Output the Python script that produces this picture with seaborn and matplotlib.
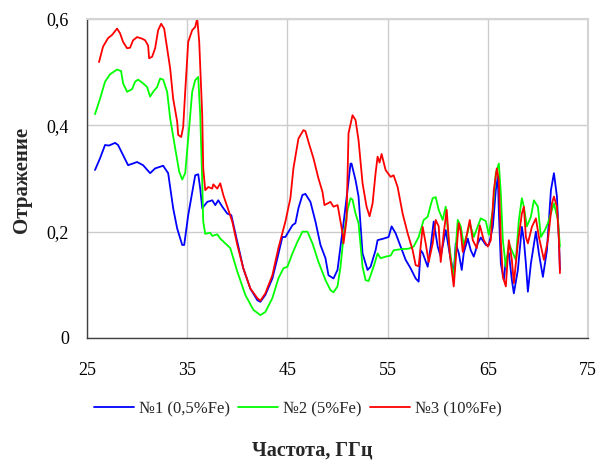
import matplotlib
matplotlib.use("Agg")
import matplotlib.pyplot as plt
import numpy as np
import pandas as pd
import seaborn as sns
from matplotlib.ticker import FuncFormatter

# sample 1 (0.5% Fe)
freq_1 = [25.8, 26.3, 26.8, 27.2, 27.8, 28.1, 28.6, 29.1, 30.0, 30.6,
          31.3, 31.8, 32.6, 33.1, 33.6, 34.0, 34.5, 34.7, 35.1, 35.8,
          36.1, 36.3, 36.5, 37.0, 37.5, 37.8, 38.1, 38.5, 39.0, 39.4,
          40.0, 40.6, 41.3, 42.0, 42.3, 42.8, 43.5, 44.0, 44.5, 44.8,
          45.5, 45.8, 46.1, 46.5, 46.8, 47.3, 47.8, 48.3, 48.8, 49.1,
          49.6, 50.0, 50.3, 50.6, 51.0, 51.3, 51.4, 51.8, 52.1, 52.5,
          53.0, 53.3, 53.8, 54.0, 54.6, 55.1, 55.4, 55.8, 56.3, 56.8,
          57.3, 57.8, 58.1, 58.3, 58.5, 59.0, 59.3, 59.6, 60.0, 60.3,
          60.8, 61.3, 61.6, 61.8, 62.1, 62.4, 62.6, 63.0, 63.3, 63.6,
          64.0, 64.3, 64.8, 65.1, 65.5, 65.8, 66.0, 66.1, 66.3, 66.6,
          66.8, 67.1, 67.4, 67.6, 68.0, 68.4, 68.6, 68.8, 69.0, 69.3,
          69.8, 70.1, 70.5, 70.9, 71.3, 71.6, 71.9, 72.1, 72.2]
refl_1 = [0.316, 0.338, 0.363, 0.362, 0.367, 0.363, 0.344, 0.325, 0.331, 0.325,
          0.31, 0.319, 0.324, 0.31, 0.244, 0.206, 0.175, 0.175, 0.231, 0.306,
          0.308, 0.281, 0.244, 0.256, 0.259, 0.25, 0.259, 0.247, 0.234, 0.231,
          0.181, 0.131, 0.093, 0.071, 0.068, 0.081, 0.112, 0.15, 0.19, 0.19,
          0.212, 0.216, 0.244, 0.269, 0.271, 0.256, 0.219, 0.175, 0.15, 0.118,
          0.112, 0.128, 0.172, 0.216, 0.278, 0.328, 0.328, 0.297, 0.266, 0.159,
          0.128, 0.134, 0.165, 0.184, 0.187, 0.19, 0.21, 0.197, 0.172, 0.147,
          0.131, 0.112, 0.106, 0.165, 0.16, 0.134, 0.172, 0.219, 0.172, 0.153,
          0.203, 0.147, 0.122, 0.178, 0.16, 0.128, 0.16, 0.187, 0.165, 0.153,
          0.178, 0.189, 0.175, 0.175, 0.209, 0.278, 0.303, 0.24, 0.14, 0.109,
          0.147, 0.16, 0.109, 0.084, 0.128, 0.209, 0.184, 0.14, 0.087, 0.14,
          0.2, 0.159, 0.115, 0.165, 0.278, 0.31, 0.266, 0.184, 0.128]

# sample 2 (5% Fe)
freq_2 = [25.8, 26.3, 26.8, 27.3, 28.0, 28.4, 28.6, 29.0, 29.5, 29.8,
          30.1, 30.6, 31.0, 31.3, 31.6, 32.0, 32.3, 32.6, 33.0, 33.3,
          33.8, 34.2, 34.5, 34.8, 35.1, 35.5, 35.8, 36.1, 36.3, 36.5,
          36.6, 36.8, 37.3, 37.5, 38.0, 38.3, 38.8, 39.3, 40.0, 40.8,
          41.6, 42.3, 42.8, 43.5, 44.1, 44.6, 45.0, 45.5, 46.0, 46.5,
          47.0, 47.5, 48.1, 48.8, 49.3, 49.6, 50.0, 50.3, 50.6, 51.0,
          51.3, 51.5, 51.8, 52.1, 52.5, 52.8, 53.1, 53.6, 54.0, 54.3,
          54.8, 55.3, 55.6, 56.3, 57.1, 57.6, 58.1, 58.6, 59.0, 59.3,
          59.5, 59.8, 60.1, 60.5, 60.8, 61.1, 61.5, 61.6, 62.0, 62.3,
          62.6, 63.0, 63.2, 63.6, 64.0, 64.3, 64.8, 65.1, 65.5, 65.8,
          66.1, 66.3, 66.5, 66.8, 67.1, 67.5, 67.8, 68.1, 68.4, 68.6,
          68.9, 69.3, 69.6, 70.0, 70.3, 70.7, 71.0, 71.6, 72.0, 72.2]
refl_2 = [0.421, 0.45, 0.482, 0.496, 0.505, 0.502, 0.479, 0.463, 0.468, 0.482,
          0.486, 0.479, 0.472, 0.454, 0.463, 0.472, 0.488, 0.486, 0.463, 0.413,
          0.357, 0.313, 0.298, 0.31, 0.375, 0.463, 0.485, 0.491, 0.419, 0.294,
          0.219, 0.196, 0.198, 0.192, 0.195, 0.187, 0.178, 0.169, 0.125, 0.081,
          0.053, 0.043, 0.049, 0.075, 0.112, 0.131, 0.134, 0.159, 0.181, 0.2,
          0.2, 0.178, 0.143, 0.109, 0.09, 0.086, 0.097, 0.134, 0.19, 0.241,
          0.263, 0.26, 0.234, 0.216, 0.134, 0.109, 0.107, 0.134, 0.159, 0.15,
          0.153, 0.155, 0.165, 0.167, 0.168, 0.172, 0.19, 0.222, 0.228, 0.25,
          0.263, 0.265, 0.241, 0.222, 0.247, 0.184, 0.122, 0.115, 0.222, 0.21,
          0.175, 0.2, 0.216, 0.19, 0.21, 0.225, 0.22, 0.194, 0.241, 0.31,
          0.328, 0.272, 0.184, 0.134, 0.178, 0.16, 0.147, 0.222, 0.263, 0.247,
          0.21, 0.228, 0.259, 0.247, 0.19, 0.203, 0.216, 0.253, 0.222, 0.172]

# sample 3 (10% Fe)
freq_3 = [26.2, 26.6, 27.1, 27.5, 28.0, 28.3, 28.6, 29.0, 29.3, 29.6,
          30.0, 30.5, 30.8, 31.1, 31.2, 31.5, 31.8, 32.1, 32.4, 32.7,
          33.0, 33.3, 33.6, 34.0, 34.1, 34.4, 34.6, 34.8, 35.1, 35.5,
          35.8, 36.0, 36.2, 36.5, 36.6, 36.8, 37.1, 37.5, 37.6, 38.0,
          38.3, 38.6, 39.0, 39.5, 40.0, 40.6, 41.3, 42.0, 42.3, 42.8,
          43.5, 44.1, 44.8, 45.3, 45.6, 46.1, 46.6, 46.8, 47.1, 47.6,
          48.1, 48.5, 48.7, 49.0, 49.3, 49.6, 50.0, 50.1, 50.5, 50.6,
          50.9, 51.1, 51.5, 51.8, 52.1, 52.5, 52.9, 53.2, 53.5, 53.8,
          54.0, 54.2, 54.4, 54.8, 55.3, 55.6, 56.0, 56.5, 57.0, 57.5,
          57.8, 58.1, 58.5, 58.8, 59.1, 59.5, 59.8, 60.1, 60.3, 60.6,
          60.9, 61.2, 61.6, 61.8, 62.1, 62.3, 62.5, 62.8, 63.2, 63.5,
          63.9, 64.2, 64.6, 65.0, 65.3, 65.6, 65.9, 66.1, 66.3, 66.5,
          66.8, 67.1, 67.4, 67.6, 68.0, 68.4, 68.6, 68.8, 69.0, 69.4,
          69.8, 70.1, 70.6, 71.0, 71.4, 71.6, 71.9, 72.1, 72.2]
refl_3 = [0.519, 0.548, 0.564, 0.57, 0.582, 0.573, 0.557, 0.545, 0.546, 0.56,
          0.566, 0.563, 0.56, 0.55, 0.526, 0.529, 0.545, 0.579, 0.591, 0.582,
          0.545, 0.507, 0.45, 0.407, 0.382, 0.378, 0.397, 0.463, 0.557, 0.579,
          0.585, 0.601, 0.557, 0.419, 0.319, 0.278, 0.284, 0.281, 0.289, 0.281,
          0.291, 0.269, 0.247, 0.219, 0.175, 0.131, 0.093, 0.075, 0.07, 0.084,
          0.118, 0.169, 0.219, 0.263, 0.319, 0.375, 0.391, 0.389, 0.369, 0.338,
          0.3, 0.275, 0.25, 0.253, 0.256, 0.247, 0.25, 0.241, 0.197, 0.178,
          0.222, 0.385, 0.419, 0.41, 0.372, 0.291, 0.247, 0.229, 0.253, 0.31,
          0.341, 0.33, 0.346, 0.316, 0.303, 0.306, 0.284, 0.234, 0.197, 0.165,
          0.137, 0.135, 0.209, 0.178, 0.143, 0.178, 0.222, 0.21, 0.143, 0.197,
          0.241, 0.159, 0.097, 0.147, 0.216, 0.2, 0.162, 0.184, 0.222, 0.184,
          0.169, 0.212, 0.184, 0.172, 0.184, 0.278, 0.319, 0.297, 0.184, 0.115,
          0.097, 0.184, 0.147, 0.103, 0.178, 0.234, 0.247, 0.19, 0.178, 0.209,
          0.225, 0.19, 0.147, 0.184, 0.253, 0.266, 0.247, 0.184, 0.122]

labels = ["№1 (0,5%Fe)", "№2 (5%Fe)", "№3 (10%Fe)"]
colors = ["#0000FF", "#00FF00", "#FF0000"]
x_ticks = [25, 35, 45, 55, 65, 75]
y_ticks = [0, 0.2, 0.4, 0.6]

frames = []
for lab, f, r in zip(labels, [freq_1, freq_2, freq_3], [refl_1, refl_2, refl_3]):
    frames.append(pd.DataFrame({"freq": f, "refl": r, "sample": lab}))
df = pd.concat(frames, ignore_index=True)

sns.set_theme(style="white")
plt.rcParams["font.family"] = ["Liberation Serif", "DejaVu Serif"]

fig = plt.figure(figsize=(5.98, 4.61), dpi=100)
ax = fig.add_axes([87 / 598, 1 - 338 / 461, (588 - 87) / 598, (338 - 19) / 461])

sns.lineplot(data=df, x="freq", y="refl", hue="sample", palette=dict(zip(labels, colors)),
             estimator=None, sort=False, linewidth=1.3, ax=ax)

ax.set_xlim(25, 75)
ax.set_ylim(0, 0.6)
ax.set_xticks(x_ticks)
ax.set_yticks(y_ticks)
ax.yaxis.set_major_formatter(FuncFormatter(lambda v, p: f"{v:g}".replace(".", ",")))
ax.grid(True, color="#cccccc", linewidth=1.0)
ax.set_axisbelow(True)
for side in ["top", "right"]:
    ax.spines[side].set_color("#d4d4d4")
    ax.spines[side].set_linewidth(1.5)
for side in ["left", "bottom"]:
    ax.spines[side].set_color("#404040")
    ax.spines[side].set_linewidth(1.0)
ax.tick_params(axis="both", which="major", direction="out", length=5, width=1.0,
               color="#404040", labelsize=13, colors="black")
ax.tick_params(axis="x", pad=12)
ax.tick_params(axis="y", pad=8)
ax.set_xlabel("")
ax.set_ylabel("")

sns.move_legend(ax, "center", bbox_to_anchor=(0.5 * (94 + 501) / 598, 1 - 409 / 461),
                bbox_transform=fig.transFigure, ncol=3, frameon=False, title=None,
                fontsize=12, handlelength=2.4, columnspacing=0.5, handletextpad=0.3)

fig.text(312 / 598, 1 - 450 / 461, "Частота, ГГц", ha="center", va="center",
         fontsize=14.5, fontweight="bold")
fig.text(22 / 598, 1 - 180 / 461, "Отражение", ha="center", va="center",
         rotation=90, fontsize=15, fontweight="bold")

fig.savefig("out.png", dpi=100)
